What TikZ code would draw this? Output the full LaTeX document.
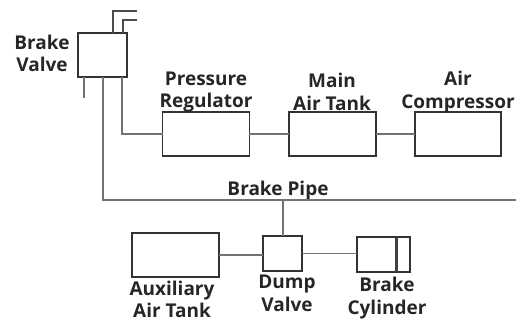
\documentclass[tikz,border=0pt]{standalone}
\usepackage{fontspec}
\setmainfont{Open Sans}
\begin{document}
\begin{tikzpicture}[
        x=1pt, y=-1pt,
        part/.style={draw=black!80, line width=1.2pt, inner sep=0pt, outer sep=0pt},
        lbl/.style={font=\fontsize{19}{22.5}\selectfont\bfseries, align=center, text=black!85, inner sep=0pt},
        pipe/.style={draw=black!55, line width=1.1pt},
        port/.style={draw=black!70, line width=1.4pt},
    ]
    \useasboundingbox (0,0) rectangle (518,322);

    \node[part, minimum width=49pt, minimum height=44pt](valve) at (102.5,55) {};
    \node[part, minimum width=86.5pt, minimum height=44pt](regulator) at (206,134) {};
    \node[part, minimum width=87pt, minimum height=44pt](main) at (332.5,134) {};
    \node[part, minimum width=86pt, minimum height=44pt](compressor) at (458,134) {};
    \node[part, minimum width=87pt, minimum height=44pt](aux) at (175.5,255) {};
    \node[part, minimum width=39pt, minimum height=35pt](dump) at (282.5,253.5) {};
    \node[part, minimum width=53pt, minimum height=35pt](cylinder) at (383.5,254.5) {};

    \node[lbl](valvetxt) at (42,53.5) {Brake\\Valve};
    \node[lbl](regulatortxt) at (206,92) {Pressure\\Regulator};
    \node[lbl](maintxt) at (332,92) {Main\\Air Tank};
    \node[lbl](compressortxt) at (458,92) {Air\\Compressor};
    \node[lbl](pipetxt) at (278,191) {Brake Pipe};
    \node[lbl](auxtxt) at (172,299.5) {Auxiliary\\Air Tank};
    \node[lbl](dumptxt) at (287,293.5) {Dump\\Valve};
    \node[lbl](cylindertxt) at (387,298) {Brake\\Cylinder};

    \coordinate(pipeL) at (103,200);
    \coordinate(pipeR) at (516,200);
    \coordinate(pipeT) at (283,200);
    \coordinate(feed) at (122,134);
    \coordinate(stub) at (84,98);
    \coordinate(upA) at (113,11);
    \coordinate(endA) at (137,11);
    \coordinate(upB) at (123,20);
    \coordinate(endB) at (137,20);
    \coordinate(pistonT) at (396,237);
    \coordinate(pistonB) at (396,272);

    \draw[pipe] (valve.south -| pipeL) -- (pipeL) -- (pipeR);
    \draw[pipe] (valve.south -| feed) -- (feed) -- (regulator.west |- feed);
    \draw[pipe] (valve.south -| stub) -- (stub);
    \draw[pipe] (pipeT) -- (dump.north -| pipeT);
    \draw[pipe] (regulator) -- (main);
    \draw[pipe] (main) -- (compressor);
    \draw[pipe] (aux.east) -- (aux.east -| dump.west);
    \draw[pipe] (dump.east) -- (dump.east -| cylinder.west);

    \draw[port] (valve.north -| upA) -- (upA) -- (endA);
    \draw[port] (valve.north -| upB) -- (upB) -- (endB);
    \draw[black!75, line width=3pt] (pistonT) -- (pistonB);
\end{tikzpicture}
\end{document}
